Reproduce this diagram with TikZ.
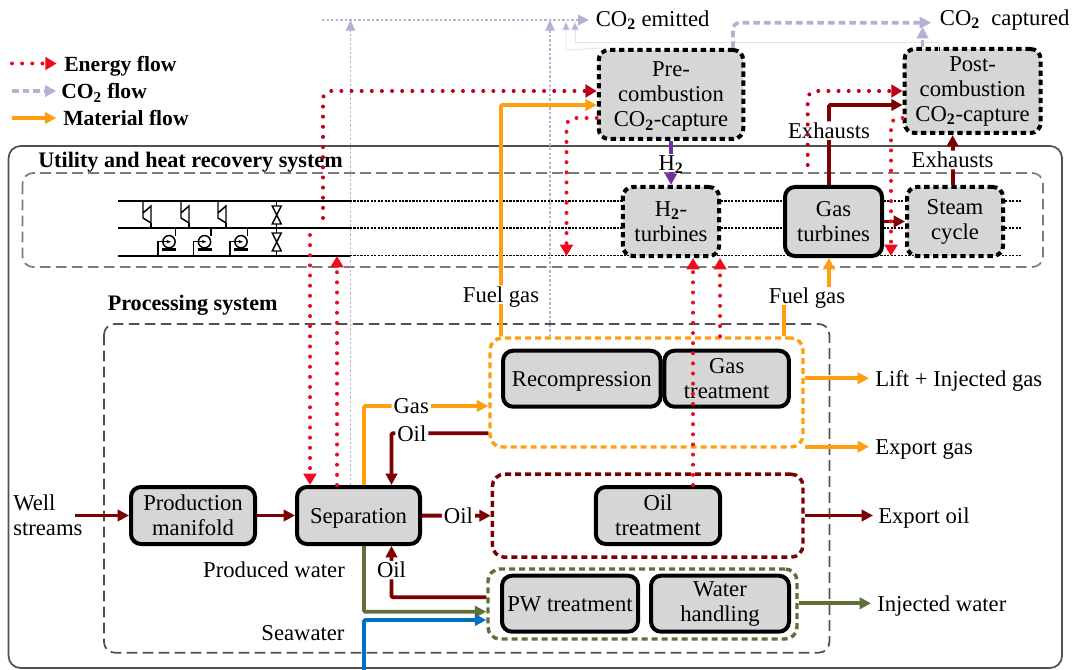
\documentclass[tikz,border=0pt]{standalone}
\usepackage{fontspec}
\setmainfont{Liberation Serif}
\usetikzlibrary{arrows.meta, positioning, calc}
\definecolor{flowmat}{HTML}{FF9E0F}
\definecolor{flowoil}{HTML}{7B0000}
\definecolor{flowwat}{HTML}{5F7038}
\definecolor{flowsea}{HTML}{0070C0}
\definecolor{flowco}{HTML}{B8AFD3}
\definecolor{flowhyd}{HTML}{7030A0}
\definecolor{flowen}{HTML}{F00A1E}
\definecolor{flowend}{HTML}{C00018}
\definecolor{boxgray}{HTML}{D6D6D6}
\definecolor{framegray}{HTML}{505050}
\tikzset{
	boxsize/.style 2 args={minimum width=#1*0.75pt, minimum height=#2*0.75pt},
	txt/.style={font=\fontsize{17}{18.75}\selectfont, inner sep=0pt, align=center},
	txtl/.style={txt, anchor=west, align=left},
	oneline/.style={text depth=0pt},
	label/.style={txt, fill=white, inner ysep=1pt, inner xsep=1.5pt},
	head/.style={font=\fontsize{16.6}{18}\selectfont\bfseries, inner sep=0pt, anchor=west},
	legtxt/.style={font=\fontsize{16.2}{18}\selectfont\bfseries, inner sep=0pt, anchor=west, oneline},
	unitbox/.style={txt, rounded corners=7.5pt, fill=boxgray, draw=black, line width=3pt},
	capbox/.style={unitbox, dash pattern=on 4pt off 2.8pt},
	group/.style={rounded corners=9pt, line width=2.6pt, dash pattern=on 4.5pt off 3pt},
	frame/.style={draw=framegray, rounded corners=8pt, line width=1.3pt, dash pattern=on 8pt off 4pt},
	symline/.style={draw=black, line width=1.1pt},
	busline/.style={draw=black, line width=1.3pt},
	busdot/.style={draw=black, line width=1.1pt, dash pattern=on 1.6pt off 1pt},
	flow/.style={-{Triangle[length=8.5pt, width=8.5pt]}, line width=2.9pt, rounded corners=1pt},
	matflow/.style={flow, draw=flowmat},
	oilflow/.style={flow, draw=flowoil},
	watflow/.style={flow, draw=flowwat},
	seaflow/.style={flow, draw=flowsea},
	hydflow/.style={flow, draw=flowhyd},
	energy/.style={line width=3pt, line cap=round, dash pattern=on 0pt off 7.6pt, rounded corners=6pt,
		-{Triangle[length=8.5pt, width=9.5pt]}, draw=flowen},
	energyd/.style={energy, draw=flowend},
	coflow/.style={flow, draw=flowco, dash pattern=on 5pt off 3pt, line width=2.8pt, rounded corners=5pt},
	cothin/.style={draw=flowco, line width=1pt, dash pattern=on 1.8pt off 1.6pt,
		-{Triangle[length=8pt, width=7pt]}},
	cofaint/.style={draw=flowco!40, line width=.6pt, -{Triangle[length=7pt, width=6pt, fill=flowco]}}
}
\newcommand{\cotwo}{CO\textsubscript{\textbf{2}}}
\newcommand{\hyd}{H\textsubscript{\textbf{2}}}

\begin{document}
\begin{tikzpicture}[x=0.75pt, y=-0.75pt]
	\useasboundingbox (0,0) rectangle (1073,670);

	\draw[framegray, line width=1.3pt, rounded corners=9pt] (8.6,146) rectangle (1062,668);
	\draw[frame, draw=framegray!75] (22.5,173) rectangle (1043,267);
	\draw[frame] (104,324) rectangle (829.4,652.7);
	\node[head] (utilhead) at (38,162) {Utility and heat recovery system};
	\node[head] (prochead) at (107.5,305.5) {Processing system};

	\foreach \y in {201,228,255.7} {
		\draw[busline] (118,\y) -- (350,\y);
		\draw[busdot] (350,\y) -- (1021,\y);
	}
	\foreach \x in {143,181,218} {
		\draw[symline] (\x,201) -- (\x,218) -- (\x+8,223) -- (\x+8,206) -- (\x,213);
		\draw[symline] (\x+8,223) -- (\x+8,228);
	}
	\foreach \x in {169,204.5,241} {
		\draw[symline] (\x,241.7) circle (4.6pt);
		\draw[symline, line width=1.8pt] (\x-7,249.5) -- (\x+7,249.5);
		\draw[symline] (\x+6.5,228) -- (\x+6.5,236);
		\draw[symline] (\x-11,255.7) -- (\x-11,241.7) -- (\x-6,241.7);
		\draw[symline, -{Stealth[length=3.5pt]}] (\x-6,241.7) -- (\x+2,241.7);
	}
	\foreach \y/\b in {206/201, 233/228} {
		\draw[symline] (276.7,\b) -- (276.7,\y) (276.7,\y+18) -- (276.7,\b+27);
		\draw[symline] (272.2,\y) -- (281.2,\y) -- (272.2,\y+18) -- (281.2,\y+18) -- cycle;
	}

	\node[legtxt] (legen) at (64,63.5) {Energy flow};
	\node[legtxt] (legco) at (61,91) {\cotwo{} flow};
	\node[legtxt] (legmat) at (63,118) {Material flow};
	\coordinate (legena) at (12,63.5);
	\coordinate (legcoa) at (12,91);
	\coordinate (legmata) at (12,118);
	\draw[energy, shorten >=5.5pt] (legena) -- (legen.west |- legena);
	\draw[coflow, shorten >=3.5pt] (legcoa) -- (legco.west |- legcoa);
	\draw[matflow, shorten >=5pt] (legmata) -- (legmat.west |- legmata);

	\node[group, draw=flowmat, boxsize={313}{109}] (gasgroup) at (646.5,392.5) {};
	\node[group, draw=flowoil, boxsize={310.6}{83}] (oilgroup) at (647.7,515.7) {};
	\node[group, draw=flowwat, boxsize={309}{70}] (watgroup) at (642.5,604) {};

	\node[unitbox, boxsize={124}{57}] (prodman) at (193,515.5) {Production\\manifold};
	\node[unitbox, oneline, boxsize={123}{57}] (sep) at (358.5,515.5) {Separation};
	\node[unitbox, boxsize={124.4}{57}] (oiltreat) at (658,515.5) {Oil\\treatment};
	\node[unitbox, oneline, boxsize={157.5}{56}] (recomp) at (581.8,378.7) {Recompression};
	\node[unitbox, boxsize={124.5}{56}] (gastreat) at (726.7,378.7) {Gas\\treatment};
	\node[unitbox, oneline, boxsize={136}{56}] (pwtreat) at (570,603.7) {PW treatment};
	\node[unitbox, boxsize={138}{56}] (wathand) at (720,603.7) {Water\\handling};
	\node[unitbox, boxsize={97}{69}] (gasturb) at (833.5,221.5) {Gas\\turbines};
	\node[capbox, boxsize={96.3}{69}] (hturb) at (671,221.5) {\hyd-\\turbines};
	\node[capbox, boxsize={96}{69}] (steam) at (955,221.5) {Steam\\cycle};
	\node[capbox, oneline, boxsize={144.5}{89}] (precap) at (671,94.5) {Pre-\\combustion\\\cotwo-capture};
	\node[capbox, boxsize={136}{84}] (postcap) at (972.6,91) {Post-\\combustion\\\cotwo-capture};

	\node[txtl] (wellin) at (13,515.5) {Well\\streams};
	\node[txtl, oneline] (liftgas) at (875,378.3) {Lift + Injected gas};
	\node[txtl, oneline] (expgas) at (875,446.7) {Export gas};
	\node[txtl, oneline] (exporl) at (878,515.5) {Export oil};
	\node[txtl, oneline] (injwat) at (877,603.3) {Injected water};
	\node[txtl] (coem) at (595.5,20) {\cotwo{} emitted};
	\node[txtl] (cocap) at (939.7,20) {\cotwo{}\ \ captured};
	\node[txt] (prodwat) at (274,570) {Produced water};
	\node[txt] (seawat) at (303,633) {Seawater};

	\coordinate (costart) at (322,20);
	\draw[cothin, -{Triangle[length=8pt, width=8pt]}, shorten >=5pt] (costart) -- (coem.west);
	\draw[cothin] (sep.north -| 350.5,0) -- (350.5,20);
	\draw[cothin] (gasgroup.north -| 550,0) -- (550,20);
	\draw[cofaint] (precap.north west) ++(5,0) -- (566,50) -- (566,21);
	\draw[cofaint] (postcap.north -| 938.6,0) ++(0,11) -- (938.6,42) -- (575,42) -- (575,21);
	\draw[coflow, shorten >=6.5pt] (precap.north -| 733,0) |- (cocap.west |- 0,22.7);
	\draw[coflow] (postcap.north -| 922.6,0) -- (922.6,27);

	\draw[oilflow] (wellin.east -| 75,0) -- (prodman);
	\draw[oilflow] (prodman) -- (sep);
	\draw[oilflow] (sep) -- (oilgroup.west) node[label, pos=.53] (oilmid) {Oil};
	\draw[matflow] (sep.north -| 364,0) |- (gasgroup.west |- 0,406) node[label, pos=.69] (gaslab) {Gas};
	\draw[oilflow] (gasgroup.west |- 0,433.3) -| (sep.north -| 391.5,0) node[label, pos=.395] (oiltop) {Oil};
	\draw[oilflow] (watgroup.west |- 0,597.3) -| (sep.south -| 391.5,0) node[label, pos=.765] (oilbot) {Oil};
	\draw[watflow] (sep.south -| 364,0) |- (watgroup.west |- 0,611.7);
	\draw[seaflow] (364,670) |- (watgroup.west |- 0,620);
	\draw[matflow] (gasgroup.north -| 501,0) |- (precap.west |- 0,105) node[label, oneline, pos=.09] (fuelleft) {Fuel gas};
	\node[label, oneline] (fuelright) at (807,296) {Fuel gas};
	\draw[matflow, -] (gasgroup.north -| 784,0) -- (fuelright.south -| 784,0);
	\draw[matflow] (fuelright.north -| 829,0) -- (gasturb.south -| 829,0);
	\draw[hydflow] (precap) -- (hturb) node[label, oneline, pos=.5] (hlab) {\hyd};
	\draw[oilflow] (gasturb.east |- steam) -- (steam);
	\draw[oilflow] (gasturb.north -| 829,0) |- (postcap.west |- 0,105) node[label, pos=.34] (exhleft) {Exhausts};
	\draw[oilflow] (steam.north -| 952.6,0) -- (postcap.south -| 952.6,0) node[label, pos=.5] (exhright) {Exhausts};
	\draw[matflow] (gasgroup.east |- liftgas) -- ($(liftgas.west)+(-6,0)$);
	\draw[matflow] (gasgroup.east |- expgas) -- ($(expgas.west)+(-6,0)$);
	\draw[oilflow] (oilgroup.east |- exporl) -- ($(exporl.west)+(-5,0)$);
	\draw[watflow] (watgroup.east |- injwat) -- ($(injwat.west)+(-6,0)$);

	\draw[energy] (310,235) -- (sep.north -| 310,0);
	\draw[energy] (sep.north -| 337,0) -- (337,256);
	\draw[energyd] (323,218) |- (precap.west |- 0,91);
	\draw[energy] (precap.west |- 0,118) -| (566.5,256);
	\draw[energy] (oiltreat.north -| 693,0) -- (hturb.south -| 693,0);
	\draw[energy] (gasgroup.north -| 720,0) -- (hturb.south -| 720,0);
	\draw[energyd] (807.7,165) |- (postcap.west |- 0,91);
	\draw[energy] (postcap.west |- 0,118) -| (891,256);
\end{tikzpicture}
\end{document}
